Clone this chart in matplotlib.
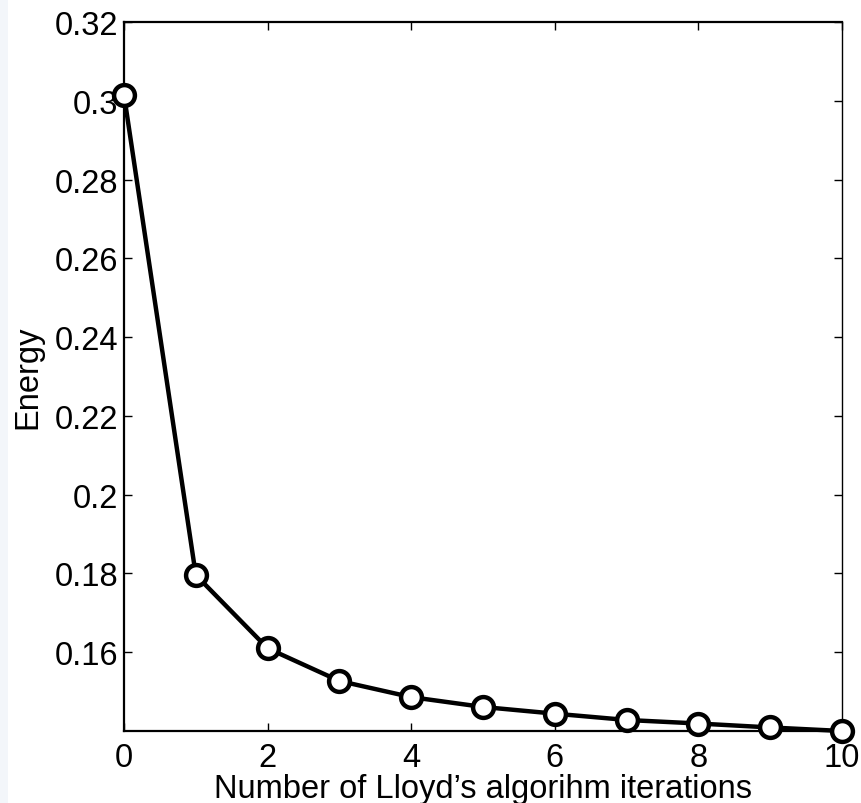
import matplotlib
matplotlib.use("Agg")
import matplotlib.pyplot as plt
from matplotlib.patches import Rectangle

plt.rcParams['font.family'] = ['Liberation Sans', 'DejaVu Sans']

# Energy after each Lloyd iteration
iterations = [0, 1, 2, 3, 4, 5, 6, 7, 8, 9, 10]
energy = [0.3015, 0.1796, 0.1610, 0.1527, 0.1486, 0.1461,
          0.1444, 0.1428, 0.1419, 0.1409, 0.1400]

x_ticks = [0, 2, 4, 6, 8, 10]
y_ticks = [0.16, 0.18, 0.2, 0.22, 0.24, 0.26, 0.28, 0.3, 0.32]
y_tick_labels = ['0.16', '0.18', '0.2', '0.22', '0.24', '0.26', '0.28', '0.3', '0.32']

W, H = 862, 804
fig = plt.figure(figsize=(W / 100, H / 100), dpi=100)
fig.patches.append(Rectangle((0, 0), 8 / W, 1, transform=fig.transFigure,
                             facecolor='#f3f6fa', edgecolor='none', zorder=-1))

ax = fig.add_axes([124 / W, 1 - 732 / H, (842 - 124) / W, (732 - 23) / H])
ax.plot(iterations, energy, color='black', linewidth=3.2,
        marker='o', markersize=15, markerfacecolor='white',
        markeredgecolor='black', markeredgewidth=3.2, clip_on=False, zorder=3)

ax.set_xlim(0, 10)
ax.set_ylim(0.1400, 0.32)
ax.set_xticks(x_ticks)
ax.set_xticklabels([str(t) for t in x_ticks])
ax.set_yticks(y_ticks)
ax.set_yticklabels(y_tick_labels)

ax.tick_params(direction='in', length=6, width=1.0, labelsize=23.5,
               top=True, right=True, pad=4)
ax.tick_params(axis='x', pad=8)
for side in ['left', 'bottom', 'top']:
    ax.spines[side].set_linewidth(1.6)
ax.spines['right'].set_linewidth(1.0)

ax.set_xlabel("Number of Lloyd’s algorihm iterations", fontsize=23.5, labelpad=0)
ax.set_ylabel("Energy", fontsize=23.5, labelpad=8)

fig.savefig("out.png", dpi=100)
